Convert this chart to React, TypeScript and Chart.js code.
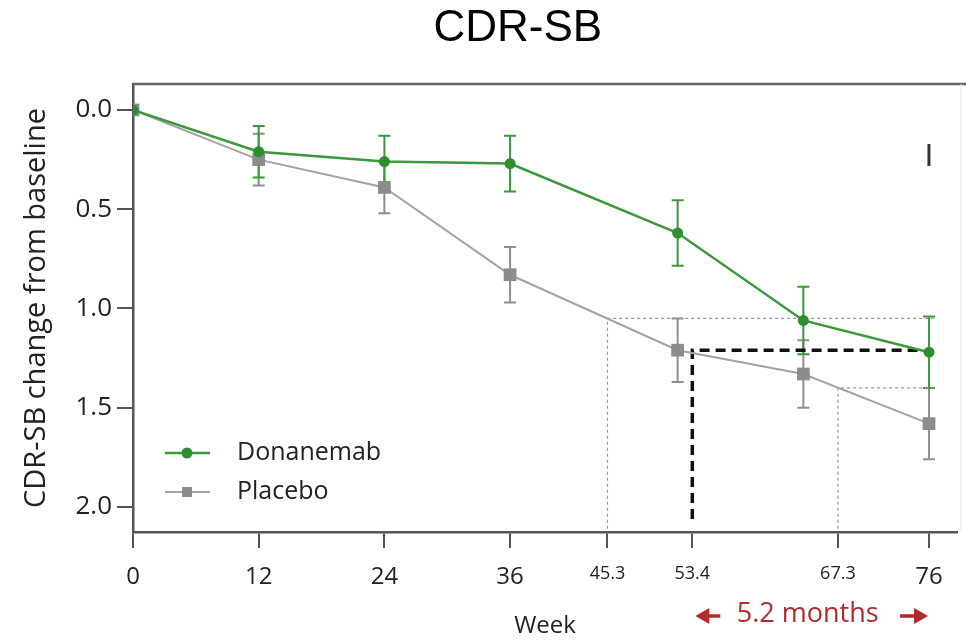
import React, { useEffect, useRef } from 'react';
import { Chart, registerables } from 'chart.js';

Chart.register(...registerables);

// ---- data ----
const weeks = [0, 12, 24, 36, 52, 64, 76];
const donanemab = [0, 0.21, 0.26, 0.27, 0.62, 1.06, 1.22];
const donanemabErr = [0, 0.13, 0.13, 0.14, 0.165, 0.17, 0.18];
const placebo = [0, 0.25, 0.39, 0.83, 1.21, 1.33, 1.58];
const placeboErr = [0, 0.13, 0.13, 0.14, 0.16, 0.17, 0.18];

const xTickValues = [0, 12, 24, 36, 45.3, 53.4, 67.3, 76];
const minorXTicks = [45.3, 53.4, 67.3];
const yTickValues = [0, 0.5, 1.0, 1.5, 2.0];

// reference guides (week, value)
const refSlowA = [[45.3, 2.2], [45.3, 1.05], [76.6, 1.05]];
const refSlowB = [[67.3, 2.2], [67.3, 1.4], [76.6, 1.4]];
const refDelay = [[53.4, 2.06], [53.4, 1.21], [75, 1.21]];

const TITLE = 'CDR-SB';
const Y_TITLE = 'CDR-SB change from baseline';
const X_TITLE = 'Week';
const DELAY_LABEL = '5.2 months';
const PANEL_MARK = 'I';
const seriesNames = ['Donanemab', 'Placebo'];

const Y_MIN = -0.131;
const Y_MAX = 2.126;
const X_MIN = 0;
const X_MAX = 78.67;

const GREEN = '#3a9a3a';
const GREEN_PT = '#2f8f2f';
const GRAY_LINE = '#a3a3a3';
const GRAY_PT = '#8c8c8c';
const GRAY_ERR = '#8e8e8e';
const AXIS = '#555555';
const TEXT = '#222222';
const RED = '#b02a30';
const FONT = "'Open Sans', sans-serif";

const toXY = (pairs: number[][]) => pairs.map(([x, y]) => ({ x, y }));

const errorBarsPlugin = {
  id: 'errorBars',
  beforeDatasetsDraw(chart: any) {
    const { ctx } = chart;
    const x = chart.scales.x;
    const y = chart.scales.y;
    const draw = (vals: number[], errs: number[], color: string) => {
      ctx.save();
      ctx.strokeStyle = color;
      ctx.lineWidth = 2;
      weeks.forEach((w, i) => {
        if (!errs[i]) return;
        const px = x.getPixelForValue(w);
        const y1 = y.getPixelForValue(vals[i] - errs[i]);
        const y2 = y.getPixelForValue(vals[i] + errs[i]);
        ctx.beginPath();
        ctx.moveTo(px, y1);
        ctx.lineTo(px, y2);
        ctx.moveTo(px - 6, y1);
        ctx.lineTo(px + 6, y1);
        ctx.moveTo(px - 6, y2);
        ctx.lineTo(px + 6, y2);
        ctx.stroke();
      });
      ctx.restore();
    };
    draw(placebo, placeboErr, GRAY_ERR);
    draw(donanemab, donanemabErr, GREEN);
  },
};

const decorPlugin = {
  id: 'decor',
  afterDraw(chart: any) {
    const { ctx, chartArea } = chart;
    const x = chart.scales.x;
    const y = chart.scales.y;
    ctx.save();

    // top border of the box
    ctx.strokeStyle = '#666666';
    ctx.lineWidth = 2.5;
    ctx.beginPath();
    ctx.moveTo(chartArea.left, chartArea.top);
    ctx.lineTo(chart.width, chartArea.top);
    ctx.stroke();
    ctx.strokeStyle = '#e6e6e6';
    ctx.lineWidth = 1;
    ctx.beginPath();
    ctx.moveTo(chartArea.right + 4, chartArea.top);
    ctx.lineTo(chartArea.right + 4, chartArea.bottom);
    ctx.stroke();

    // title
    ctx.fillStyle = '#000';
    ctx.font = "44px 'Liberation Sans', Arial, sans-serif";
    ctx.textAlign = 'center';
    ctx.textBaseline = 'middle';
    ctx.fillText(TITLE, chart.width * 0.536, 29);

    // panel mark
    ctx.fillStyle = '#333';
    ctx.font = "32px 'Liberation Sans', Arial, sans-serif";
    ctx.fillText(PANEL_MARK, x.getPixelForValue(76), y.getPixelForValue(0.24));

    // legend
    const lx = chartArea.left + 32;
    const ly1 = chartArea.bottom - 79;
    const ly2 = chartArea.bottom - 40;
    ctx.lineWidth = 2.5;
    ctx.strokeStyle = GREEN;
    ctx.beginPath();
    ctx.moveTo(lx, ly1);
    ctx.lineTo(lx + 45, ly1);
    ctx.stroke();
    ctx.fillStyle = GREEN_PT;
    ctx.beginPath();
    ctx.arc(lx + 22, ly1, 5.5, 0, Math.PI * 2);
    ctx.fill();
    ctx.strokeStyle = GRAY_LINE;
    ctx.lineWidth = 2;
    ctx.beginPath();
    ctx.moveTo(lx, ly2);
    ctx.lineTo(lx + 45, ly2);
    ctx.stroke();
    ctx.fillStyle = GRAY_PT;
    ctx.fillRect(lx + 22 - 5, ly2 - 5, 10, 10);
    ctx.fillStyle = TEXT;
    ctx.font = `25px ${FONT}`;
    ctx.textAlign = 'left';
    ctx.fillText(seriesNames[0], lx + 72, ly1);
    ctx.fillText(seriesNames[1], lx + 72, ly2);

    // delay annotation
    const ay = chartArea.bottom + 84;
    const ax1 = x.getPixelForValue(53.4) + 3;
    const ax2 = x.getPixelForValue(76) - 1;
    ctx.fillStyle = RED;
    ctx.strokeStyle = RED;
    ctx.lineWidth = 3.5;
    // left arrow
    ctx.beginPath();
    ctx.moveTo(ax1 + 10, ay);
    ctx.lineTo(ax1 + 25, ay);
    ctx.stroke();
    ctx.beginPath();
    ctx.moveTo(ax1, ay);
    ctx.lineTo(ax1 + 14, ay - 8);
    ctx.lineTo(ax1 + 14, ay + 8);
    ctx.closePath();
    ctx.fill();
    // right arrow
    ctx.beginPath();
    ctx.moveTo(ax2 - 28, ay);
    ctx.lineTo(ax2 - 10, ay);
    ctx.stroke();
    ctx.beginPath();
    ctx.moveTo(ax2, ay);
    ctx.lineTo(ax2 - 14, ay - 8);
    ctx.lineTo(ax2 - 14, ay + 8);
    ctx.closePath();
    ctx.fill();
    ctx.font = `27px ${FONT}`;
    ctx.textAlign = 'center';
    ctx.fillText(DELAY_LABEL, (ax1 + ax2) / 2 - 4, ay - 2);

    ctx.restore();
  },
};

export default function App() {
  const ref = useRef<HTMLCanvasElement | null>(null);

  useEffect(() => {
    if (!ref.current) return;
    const chart = new Chart(ref.current, {
      type: 'line',
      data: {
        datasets: [
          {
            label: seriesNames[0],
            data: weeks.map((w, i) => ({ x: w, y: donanemab[i] })),
            borderColor: GREEN,
            backgroundColor: GREEN_PT,
            borderWidth: 2.5,
            pointStyle: 'circle',
            pointRadius: 5.5,
            pointBorderWidth: 0,
            tension: 0,
          },
          {
            label: seriesNames[1],
            data: weeks.map((w, i) => ({ x: w, y: placebo[i] })),
            borderColor: GRAY_LINE,
            backgroundColor: GRAY_PT,
            borderWidth: 2,
            pointStyle: 'rect',
            pointRadius: 9,
            pointBorderWidth: 0,
            tension: 0,
          },
          {
            label: 'delay',
            data: toXY(refDelay),
            borderColor: '#111',
            borderWidth: 3.5,
            borderDash: [10, 6],
            pointRadius: 0,
            tension: 0,
          },
          {
            label: 'refA',
            data: toXY(refSlowA),
            borderColor: '#9a9a9a',
            borderWidth: 1.2,
            borderDash: [3, 3],
            pointRadius: 0,
            tension: 0,
          },
          {
            label: 'refB',
            data: toXY(refSlowB),
            borderColor: '#9a9a9a',
            borderWidth: 1.2,
            borderDash: [3, 3],
            pointRadius: 0,
            tension: 0,
          },
        ],
      },
      options: {
        animation: false,
        responsive: false,
        maintainAspectRatio: false,
        events: [],
        layout: { padding: { top: 84, right: 3, left: 0, bottom: 0 } },
        plugins: {
          legend: { display: false },
          tooltip: { enabled: false },
          title: { display: false },
        },
        scales: {
          x: {
            type: 'linear',
            min: X_MIN,
            max: X_MAX,
            afterBuildTicks: (scale: any) => {
              scale.ticks = xTickValues.map((v) => ({ value: v }));
            },
            afterFit: (scale: any) => {
              scale.height = 109;
              scale.paddingLeft = 0;
              scale.paddingRight = 0;
            },
            grid: {
              drawOnChartArea: false,
              drawTicks: true,
              tickLength: 16,
              color: AXIS,
              lineWidth: 2,
            },
            border: { display: true, color: AXIS, width: 2.5 },
            ticks: {
              autoSkip: false,
              maxRotation: 0,
              padding: 15,
              color: TEXT,
              font: (ctx: any) => ({
                family: FONT,
                size: ctx.tick && minorXTicks.includes(ctx.tick.value) ? 18 : 24,
              }),
              callback: (v: any) => String(v),
            },
            title: {
              display: true,
              text: X_TITLE,
              color: TEXT,
              font: { family: FONT, size: 24 },
              padding: { top: 0, bottom: 0 },
            },
          },
          y: {
            type: 'linear',
            reverse: true,
            min: Y_MIN,
            max: Y_MAX,
            afterBuildTicks: (scale: any) => {
              scale.ticks = yTickValues.map((v) => ({ value: v }));
            },
            afterFit: (scale: any) => {
              scale.width = 133;
              scale.paddingTop = 0;
              scale.paddingBottom = 0;
            },
            grid: {
              drawOnChartArea: false,
              drawTicks: true,
              tickLength: 16,
              color: AXIS,
              lineWidth: 2,
            },
            border: { display: true, color: AXIS, width: 2.5 },
            ticks: {
              padding: 5,
              color: TEXT,
              font: { family: FONT, size: 26 },
              callback: (v: any) => Number(v).toFixed(1),
            },
            title: {
              display: true,
              text: Y_TITLE,
              color: TEXT,
              font: { family: FONT, size: 29 },
              padding: { top: 19, bottom: 0 },
            },
          },
        },
      },
      plugins: [errorBarsPlugin, decorPlugin],
    } as any);
    return () => chart.destroy();
  }, []);

  return (
    <div style={{ position: 'absolute', left: 0, top: 0, width: 966, height: 641, background: '#fff' }}>
      <canvas ref={ref} width={966} height={641} style={{ width: 966, height: 641 }} />
    </div>
  );
}
